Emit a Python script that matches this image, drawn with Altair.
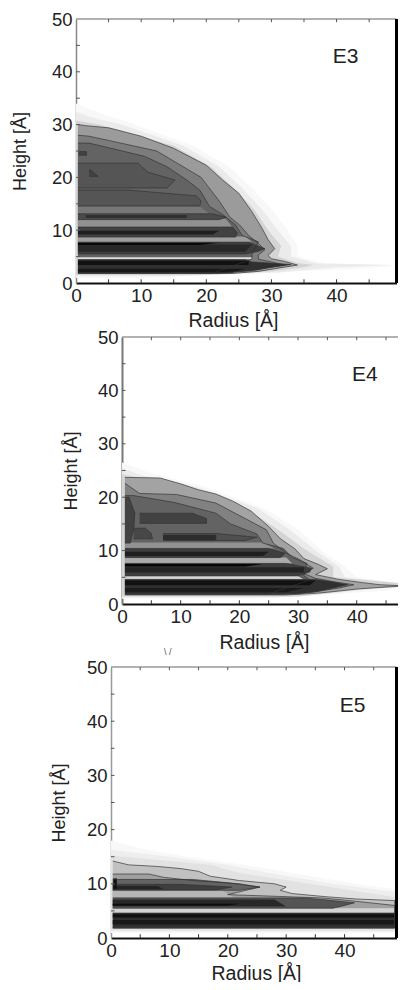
import altair as alt
import pandas as pd

RADIUS_LABELS = [0, 10, 20, 30, 40]
HEIGHT_LABELS = [0, 10, 20, 30, 40, 50]
RADIUS_TICKS = [5, 10, 15, 20, 25, 30, 35, 40, 45]
HEIGHT_TICKS = [5, 10, 15, 20, 25, 30, 35, 40, 45]
FONT = "Liberation Sans"
INK = "#222222"
CANVAS_W = 390
CANVAS_H = 974

# ---- E3 contour regions: heights, radii at each height ----
E3_F1_H = [1.0, 2, 3, 3.3, 3.8, 5, 7, 10, 14, 18, 22, 26, 30, 32.5, 34]
E3_F1_R = [10, 31, 47, 49.2, 38, 34, 34, 32.5, 30, 27, 23.5, 18, 9, 3, 0]
E3_F2_H = [1.3, 2, 3, 3.4, 3.7, 5, 7, 10, 14, 18, 22, 26, 30, 31.5, 32.5]
E3_F2_R = [15, 31, 40, 49.2, 37, 33, 33, 31, 28.5, 25.5, 22, 16.5, 7, 2, 0]
E3_F3_H = [1.5, 2.2, 3, 3.4, 3.8, 5, 7, 10, 14, 18, 22, 26, 30, 30.8]
E3_F3_R = [20, 30, 35, 36.5, 34, 31, 31.5, 29.5, 27.3, 24.2, 20.7, 15, 3.5, 0]
E3_C1_H = [1.8, 2.2, 2.8, 3.4, 4.1, 4.6, 5.2, 6.5, 8.2, 10.5, 13.5, 17, 19.5, 22.3, 25.5, 27.8, 29.4, 29.8, 30]
E3_C1_R = [24, 28, 31, 34, 32, 30, 29.5, 30.5, 29.5, 28.5, 27, 25, 22.5, 20, 15, 10, 5, 1.5, 0.3]
E3_C2_H = [1.9, 2.5, 3, 3.4, 4, 4.5, 5.3, 6.3, 7.5, 9, 11, 12.5, 15.5, 20, 25, 27, 27.8, 28]
E3_C2_R = [23, 27, 30, 32, 30, 28, 28, 29, 28, 26.5, 25.1, 23.6, 22, 19.2, 12.4, 5, 2, 0.3]
E3_C3_H = [1.9, 4.5, 5.4, 7.8, 9, 11, 13, 14.5, 17.6, 19.5, 22, 24, 26.5]
E3_C3_R = [21, 27, 27, 28, 25.5, 24.5, 22.5, 20.5, 19, 17, 14, 10.5, 2]
E3_L1_H = [4.5, 4.9]
E3_L1_R = [27, 27]
E3_L2_H = [7.8, 8.8]
E3_L2_R = [27, 26]
E3_L3_H = [10.6, 12.1]
E3_L3_R = [24, 23]
E3_L4_H = [13.1, 14.5]
E3_L4_R = [20.5, 19]
E3_S1_H = [1.9, 2.3, 3, 3.5, 4, 4.4]
E3_S1_R = [22, 27, 30, 33, 27, 26]
E3_S1A_H = [3.4, 4.2]
E3_S1A_R = [26.5, 26.5]
E3_S1B_H = [2.0, 2.7]
E3_S1B_R = [24, 26]
E3_S2_H = [5.5, 6, 6.5, 7, 7.7]
E3_S2_R = [26, 28, 29, 28, 26.5]
E3_S2A_H = [5.9, 7.3]
E3_S2A_R = [26, 27]
E3_S2B_H = [7.2, 7.6]
E3_S2B_R = [19, 22]
E3_S3_H = [8.7, 9.5, 10.6]
E3_S3_R = [24.5, 24.8, 24]
E3_S3A_H = [9.2, 9.9]
E3_S3A_R = [21, 22]
E3_S4_H = [12.0, 12.5, 13.1]
E3_S4_R = [22, 23, 21]
E3_S4A_H = [12.3, 12.9]
E3_S4A_R = [17, 17]
E3_S5_H = [14.6, 15.5, 16.5, 17.6]
E3_S5_R = [19, 19.2, 18.5, 8]
E3_S6_H = [18, 19.5, 21, 22.7]
E3_S6_R = [14, 15.2, 11, 9.5]
E3_S7_H = [24.2, 24.9]
E3_S7_R = [1.6, 1.6]
E3_S8_H = [20.2, 20.8, 21.4]
E3_S8_R = [3.4, 2.8, 2.3]

# ---- E4 ----
E4_F1_H = [1.0, 1.5, 2.5, 3.3, 3.8, 5, 7, 10, 14, 18, 22, 24.5, 26.5]
E4_F1_R = [22, 32, 45, 48.3, 48.3, 40, 38, 34, 30, 24, 14, 5, 0]
E4_F2_H = [1.2, 1.8, 2.7, 3.3, 3.8, 5, 7, 10, 14, 18, 22, 24.2, 25.5]
E4_F2_R = [26, 34, 42, 48.3, 48.3, 38, 37, 33, 28.5, 23, 12.5, 3, 0]
E4_F3_H = [1.4, 2, 2.9, 3.3, 3.8, 5, 7, 10, 14, 18, 22, 24.3]
E4_F3_R = [30, 35, 42, 48.3, 48.3, 36, 36, 31.5, 26.5, 21, 10, 0]
E4_C1_H = [1.7, 2, 2.2, 2.8, 3.1, 3.4, 3.6, 4.0, 4.6, 5.5, 6.6, 7.4, 8.5, 10.3, 12.2, 14.5, 17.4, 19.2, 20.6, 21.4, 22.5, 23.6, 23.7]
E4_C1_R = [28, 33, 35, 40, 44, 48.3, 44, 41, 37, 33, 35, 33.5, 31, 29.5, 27, 25, 22, 19, 16, 13, 10, 6.5, 1.5]
E4_C2_H = [1.8, 2.3, 3, 3.6, 4.2, 4.8, 5.7, 6.7, 8.3, 9.5, 11.4, 13.9, 16, 18.9, 20.5, 20.7, 22.6]
E4_C2_R = [27, 33, 37, 39.5, 36, 33, 31, 32.6, 30.3, 28, 25.8, 24.6, 21, 16, 9.3, 3, 0.5]
E4_C3_H = [1.9, 4.5, 5.3, 7.6, 8.7, 10.4, 11.4, 13.1, 15, 17, 19, 20.3]
E4_C3_R = [25, 32, 31, 31.5, 29, 27.5, 24, 23, 18.5, 16, 9, 2]
E4_L1_H = [4.6, 5.2]
E4_L1_R = [31, 30]
E4_L2_H = [7.6, 8.7]
E4_L2_R = [29, 28]
E4_L3_H = [10.4, 11.5]
E4_L3_R = [26, 24]
E4_S1_H = [1.9, 2.3, 3, 3.6, 4.1, 4.6]
E4_S1_R = [30, 33, 36, 38.5, 36, 33]
E4_S1A_H = [3.5, 4.4]
E4_S1A_R = [32, 33]
E4_S1B_H = [2.2, 3.0]
E4_S1B_R = [28, 31]
E4_S2_H = [5.3, 6, 6.7, 7.6]
E4_S2_R = [30, 32, 32.3, 28]
E4_S2A_H = [5.9, 6.9]
E4_S2A_R = [31, 31]
E4_S2B_H = [7.0, 7.5]
E4_S2B_R = [21, 24]
E4_S3_H = [8.7, 9.5, 10.4]
E4_S3_R = [27, 27.8, 25]
E4_S3A_H = [9.0, 9.8]
E4_S3A_R = [24, 25]
E4_S4_H = [11.9, 12.5, 13.2]
E4_S4_R = [21, 23, 16]
E4_S4A_H = [12, 12.9]
E4_S4A_R = [16, 16]
E4_S5_H = [15.1, 16, 17]
E4_S5_R = [14.4, 14.4, 12]
E4_S6_H = [11.4, 14, 17, 20]
E4_S6_R = [1.4, 2, 2.2, 1.2]
E4_S7_H = [12.2, 13.2, 14.2]
E4_S7_R = [5.2, 5, 4]

# ---- E5 ----
E5_F1_H = [0.9, 1.4, 5, 7.5, 9, 10, 12, 13.5, 15, 16.5, 18]
E5_F1_R = [48.6, 48.6, 48.6, 48.6, 48.6, 42, 31, 23, 13, 5, 0]
E5_F2_H = [1.2, 1.6, 5, 7.5, 8.5, 10, 12, 13.5, 15, 16.3]
E5_F2_R = [48.6, 48.6, 48.6, 48.6, 48.6, 38, 27, 20, 10, 0]
E5_F3_H = [1.4, 1.7, 5, 7.5, 8, 10, 12, 13.5, 15.2]
E5_F3_R = [48.6, 48.6, 48.6, 48.6, 46, 34, 22, 17, 0]
E5_C1_H = [1.8, 5.4, 6.9, 7.2, 7.6, 8.2, 8.8, 9.4, 10, 10.6, 11.4, 12.3, 12.8, 13.2, 13.5, 14.2]
E5_C1_R = [48.6, 48.6, 48.6, 42, 37, 31, 29, 30, 28, 22, 17, 15, 12, 8, 3, 0.3]
E5_C2_H = [1.9, 5.5, 6, 7.0, 7.4, 8, 9.4, 10, 10.6, 11.2, 11.8]
E5_C2_R = [48.6, 48.6, 48.6, 40, 36, 20, 25.5, 22, 14, 9, 6.5]
E5_L1_H = [7.5, 8.8]
E5_L1_R = [21, 19]
E5_L2_H = [4.6, 5.5]
E5_L2_R = [48.6, 48.6]
E5_S1_H = [1.9, 4.6]
E5_S1_R = [48.6, 48.6]
E5_S1A_H = [3.8, 4.4]
E5_S1A_R = [48.6, 48.6]
E5_S1B_H = [2.5, 3.3]
E5_S1B_R = [48.6, 48.6]
E5_S2_H = [5.5, 6, 6.5, 7, 7.4]
E5_S2_R = [38, 40, 41.7, 37, 33]
E5_S2A_H = [5.8, 7.1]
E5_S2A_R = [30, 28]
E5_S2B_H = [6.0, 6.3]
E5_S2B_R = [20, 22]
E5_S3_H = [8.8, 9.4, 10.2, 10.8]
E5_S3_R = [22, 25.5, 20, 14]
E5_S3A_H = [8.9, 9.4, 9.9]
E5_S3A_R = [18, 20.7, 12]
E5_S3B_H = [9, 9.6]
E5_S3B_R = [9, 8]
E5_S4_H = [9.0, 11]
E5_S4_R = [1.0, 1.0]

# Stray scan marks above the E5 frame, read in E4's axes
SCAN_MARK_R = [7.8]
SCAN_MARK_H = [-9]

# name, darkness, outlined, heights, radii, inner radius
E3_REGIONS = [
    ("f1", .025, False, E3_F1_H, E3_F1_R, 0), ("f2", .07, False, E3_F2_H, E3_F2_R, 0),
    ("f3", .15, False, E3_F3_H, E3_F3_R, 0), ("c1", .36, True, E3_C1_H, E3_C1_R, .3),
    ("c2", .48, True, E3_C2_H, E3_C2_R, .3), ("c3", .58, True, E3_C3_H, E3_C3_R, .3),
    ("l1", .12, False, E3_L1_H, E3_L1_R, .3), ("l2", .35, False, E3_L2_H, E3_L2_R, .3),
    ("l3", .40, False, E3_L3_H, E3_L3_R, .3), ("l4", .50, False, E3_L4_H, E3_L4_R, .3),
    ("s1", .80, True, E3_S1_H, E3_S1_R, .3), ("s1a", .95, False, E3_S1A_H, E3_S1A_R, .3),
    ("s1b", .92, False, E3_S1B_H, E3_S1B_R, .3), ("s2", .74, True, E3_S2_H, E3_S2_R, .3),
    ("s2a", .84, False, E3_S2A_H, E3_S2A_R, .3), ("s2b", .98, False, E3_S2B_H, E3_S2B_R, .3),
    ("s3", .72, True, E3_S3_H, E3_S3_R, .3), ("s3a", .88, False, E3_S3A_H, E3_S3A_R, .3),
    ("s4", .68, True, E3_S4_H, E3_S4_R, .3), ("s4a", .80, False, E3_S4A_H, E3_S4A_R, 1.5),
    ("s5", .64, True, E3_S5_H, E3_S5_R, .3), ("s6", .64, True, E3_S6_H, E3_S6_R, .3),
    ("s7", .72, True, E3_S7_H, E3_S7_R, .4), ("s8", .72, True, E3_S8_H, E3_S8_R, 2),
]
E4_REGIONS = [
    ("f1", .025, False, E4_F1_H, E4_F1_R, 0), ("f2", .07, False, E4_F2_H, E4_F2_R, 0),
    ("f3", .15, False, E4_F3_H, E4_F3_R, 0), ("c1", .33, True, E4_C1_H, E4_C1_R, .5),
    ("c2", .46, True, E4_C2_H, E4_C2_R, .5), ("c3", .58, True, E4_C3_H, E4_C3_R, .5),
    ("l1", .15, False, E4_L1_H, E4_L1_R, .5), ("l2", .30, False, E4_L2_H, E4_L2_R, .5),
    ("l3", .40, False, E4_L3_H, E4_L3_R, .5), ("s1", .80, True, E4_S1_H, E4_S1_R, .5),
    ("s1a", .95, False, E4_S1A_H, E4_S1A_R, .5), ("s1b", .90, False, E4_S1B_H, E4_S1B_R, .5),
    ("s2", .74, True, E4_S2_H, E4_S2_R, .5), ("s2a", .86, False, E4_S2A_H, E4_S2A_R, .5),
    ("s2b", .98, False, E4_S2B_H, E4_S2B_R, .5), ("s3", .74, True, E4_S3_H, E4_S3_R, .5),
    ("s3a", .88, False, E4_S3A_H, E4_S3A_R, .5), ("s4", .66, True, E4_S4_H, E4_S4_R, 7),
    ("s4a", .82, True, E4_S4A_H, E4_S4A_R, 7), ("s5", .72, True, E4_S5_H, E4_S5_R, 3),
    ("s6", .72, True, E4_S6_H, E4_S6_R, .5), ("s7", .70, True, E4_S7_H, E4_S7_R, 2),
]
E5_REGIONS = [
    ("f1", .025, False, E5_F1_H, E5_F1_R, 0), ("f2", .06, False, E5_F2_H, E5_F2_R, 0),
    ("f3", .10, False, E5_F3_H, E5_F3_R, 0), ("c1", .22, True, E5_C1_H, E5_C1_R, .3),
    ("c2", .34, True, E5_C2_H, E5_C2_R, .3), ("l1", .26, False, E5_L1_H, E5_L1_R, .3),
    ("l2", .15, False, E5_L2_H, E5_L2_R, .3), ("s1", .80, True, E5_S1_H, E5_S1_R, .3),
    ("s1a", .95, False, E5_S1A_H, E5_S1A_R, .3), ("s1b", .92, False, E5_S1B_H, E5_S1B_R, .3),
    ("s2", .64, True, E5_S2_H, E5_S2_R, .3), ("s2a", .84, False, E5_S2A_H, E5_S2A_R, .3),
    ("s2b", .97, False, E5_S2B_H, E5_S2B_R, .3), ("s3", .58, True, E5_S3_H, E5_S3_R, .3),
    ("s3a", .74, True, E5_S3A_H, E5_S3A_R, .3), ("s3b", .86, False, E5_S3B_H, E5_S3B_R, 1),
    ("s4", .95, False, E5_S4_H, E5_S4_R, .4),
]


def area_table(regions):
    rows = []
    for i, (name, dark, _, hs, rs, r0) in enumerate(regions):
        for h, r in zip(hs, rs):
            rows.append({"region": f"{i:02d}{name}", "h": h, "r": r, "r0": r0, "dark": dark})
    return pd.DataFrame(rows)


def line_table(regions):
    rows = []
    for i, (name, _, outlined, hs, rs, r0) in enumerate(regions):
        if not outlined:
            continue
        path = [(hs[0], r0)] + list(zip(hs, rs)) + [(hs[-1], r0)]
        for k, (h, r) in enumerate(path):
            rows.append({"region": f"{i:02d}{name}", "h": h, "r": r, "seq": k})
    return pd.DataFrame(rows)


def panel(regions, label, xmax, xrange, yrange, left_color, left_width, right_bar, title_x, title_y, ytitle_x, scan_mark=False, label_r=41.4, label_h=42.8):
    xs = alt.Scale(domain=[0, xmax], range=xrange, nice=False, zero=False)
    ys = alt.Scale(domain=[0, 50], range=yrange, nice=False, zero=False)
    xaxis = alt.Axis(orient="bottom", values=RADIUS_LABELS, title="Radius [Å]", grid=False, tickSize=0, labelPadding=3,
                     labelFont=FONT, labelFontSize=19, labelColor=INK, labelFlush=False,
                     titleFont=FONT, titleFontSize=19.5, titleFontWeight="normal", titleColor=INK,
                     titleX=title_x, titleY=title_y, titleBaseline="alphabetic", titleAnchor="middle",
                     domainColor="#111111", domainWidth=2, offset=yrange[0] - CANVAS_H)
    yaxis = alt.Axis(orient="left", values=HEIGHT_LABELS, title="Height [Å]", grid=False, tickSize=0, labelPadding=4,
                     labelFont=FONT, labelFontSize=18.5, labelColor=INK,
                     titleFont=FONT, titleFontSize=18, titleFontWeight="normal", titleColor=INK,
                     titleX=ytitle_x, titleY=(yrange[0] + yrange[1]) / 2, titleBaseline="bottom",
                     domainColor=left_color, domainWidth=left_width, offset=-xrange[0])
    areas = alt.Chart(area_table(regions)).mark_area(orient="horizontal").encode(
        x=alt.X("r:Q", scale=xs, axis=xaxis),
        x2="r0:Q",
        y=alt.Y("h:Q", scale=ys, axis=yaxis, sort="ascending"),
        detail="region:N",
        color=alt.Color("dark:Q", scale=alt.Scale(domain=[0, 1], range=["#ffffff", "#000000"]), legend=None),
    )
    lines = alt.Chart(line_table(regions)).mark_line(color="#333333", strokeWidth=0.8, opacity=0.85).encode(
        x=alt.X("r:Q", scale=xs), y=alt.Y("h:Q", scale=ys), detail="region:N", order="seq:Q")
    top = alt.Chart(pd.DataFrame({"h": [50], "a": [0], "b": [xmax]})).mark_rule(color="#999999", strokeWidth=1.5).encode(
        y=alt.Y("h:Q", scale=ys), x=alt.X("a:Q", scale=xs), x2="b:Q")
    top_t = alt.Chart(pd.DataFrame({"r": RADIUS_TICKS})).transform_calculate(a="50", b="49.4").mark_rule(color="#555555").encode(
        x=alt.X("r:Q", scale=xs), y=alt.Y("a:Q", scale=ys), y2="b:Q")
    bot_t = alt.Chart(pd.DataFrame({"r": RADIUS_TICKS})).transform_calculate(a="0", b="0.7").mark_rule(color="#333333").encode(
        x=alt.X("r:Q", scale=xs), y=alt.Y("a:Q", scale=ys), y2="b:Q")
    left_t = alt.Chart(pd.DataFrame({"h": HEIGHT_TICKS})).transform_calculate(a="0", b="0.6").mark_rule(color="#555555").encode(
        y=alt.Y("h:Q", scale=ys), x=alt.X("a:Q", scale=xs), x2="b:Q")
    tag = alt.Chart(pd.DataFrame({"r": [label_r], "h": [label_h], "t": [label]})).mark_text(
        font=FONT, fontSize=21, color=INK).encode(
        x=alt.X("r:Q", scale=xs), y=alt.Y("h:Q", scale=ys), text="t:N")
    layers = [areas, lines, top, top_t, bot_t, left_t, tag]
    if right_bar:
        layers.append(alt.Chart(pd.DataFrame({"r": [xmax], "a": [0], "b": [50]})).mark_rule(color="#000000", strokeWidth=3).encode(
            x=alt.X("r:Q", scale=xs), y=alt.Y("a:Q", scale=ys), y2="b:Q"))
    if scan_mark:
        layers.append(alt.Chart(pd.DataFrame({"r": SCAN_MARK_R, "h": SCAN_MARK_H, "t": ["\\     /"]})).mark_text(
            font=FONT, fontSize=9, color="#555555").encode(
            x=alt.X("r:Q", scale=xs), y=alt.Y("h:Q", scale=ys), text="t:N"))
    return alt.layer(*layers)


p3 = panel(E3_REGIONS, "E3", 49.2, [68, 388.5], [275, 11], "#888888", 1.5, True, 225, 43, -47)
p4 = panel(E4_REGIONS, "E4", 48.4, [114, 398], [596, 329], "#777777", 2, False, 256, 44, -42, scan_mark=True)
p5 = panel(E5_REGIONS, "E5", 48.9, [103, 388.5], [930, 659], "#999999", 1.5, True, 248, 41, -43)

chart = alt.layer(p3, p4, p5).resolve_scale(x="independent", y="independent", color="independent").resolve_axis(
    x="independent", y="independent"
).properties(
    width=CANVAS_W, height=CANVAS_H, padding=0, background="white", autosize=alt.AutoSizeParams(type="none")
).configure_view(stroke=None)

chart.save("out.html", embed_options={"renderer": "svg", "actions": False})
